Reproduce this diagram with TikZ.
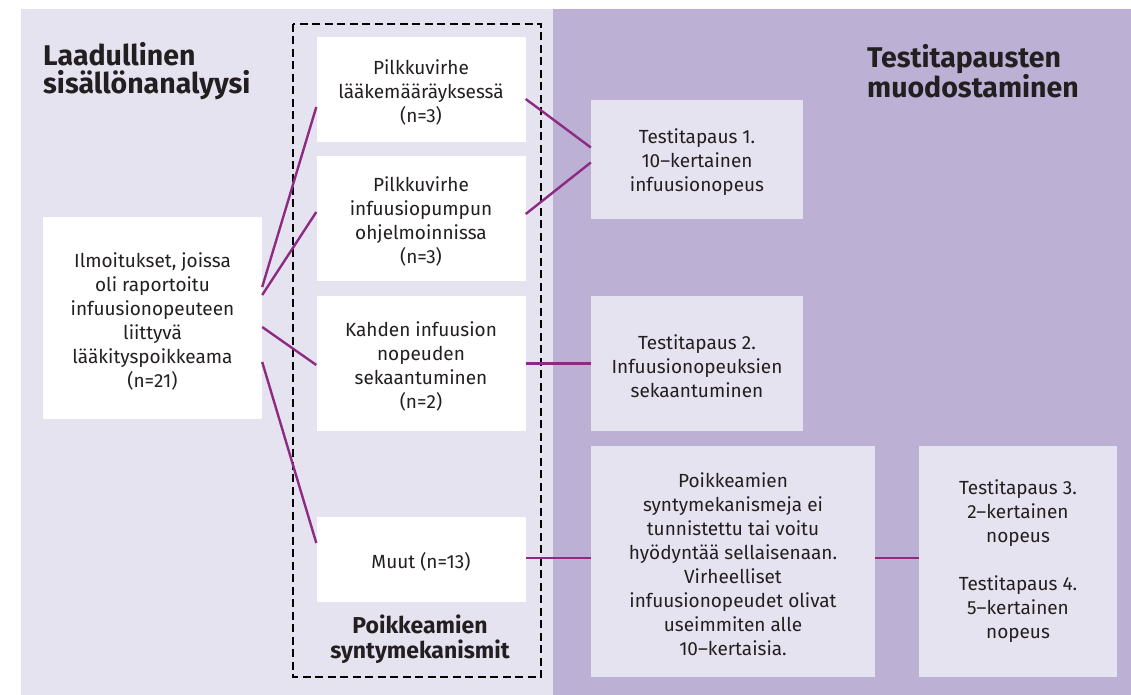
\documentclass[tikz,border=0pt]{standalone}
\usepackage{fontspec}
\setmainfont{Fira Sans}
\definecolor{lightpanel}{HTML}{E6E3F1}
\definecolor{darkpanel}{HTML}{BCB0D5}
\definecolor{linkcol}{HTML}{8D2B83}
\definecolor{txt}{HTML}{231F20}
\newcommand\dn{\rule{0pt}{21pt}}
\begin{document}
\begin{tikzpicture}[x=1pt,y=-1pt,
 wbox/.style={fill=white, draw=none, inner sep=0pt, align=center, text=txt, font=\fontsize{19}{24}\selectfont},
 lbox/.style={wbox, fill=lightpanel},
 link/.style={draw=linkcol, line width=2.4pt},
 title/.style={font=\bfseries\fontsize{28.5}{28}\selectfont, text=txt, align=left, inner sep=0pt, anchor=north west},
 group/.style={draw=black, line width=2.5pt, dash pattern=on 8pt off 4.5pt},
]
\useasboundingbox (0,0) rectangle (1131,695);
\fill[white] (0,0) rectangle (1131,695);
\fill[lightpanel] (21,9) rectangle (553,695);
\fill[darkpanel] (553,9) rectangle (1131,695);

\coordinate (gtl) at (293,24);
\coordinate (gbr) at (541,677);
\draw[group] (gtl) rectangle (gbr);

\node[title] (t-left) at (43,42) {Laadullinen\\sisällönanalyysi};
\node[title] (t-right) at (867,44) {Testitapausten\\muodostaminen};
\node[font=\bfseries\fontsize{23}{25}\selectfont, text=txt, align=center, inner sep=0pt, anchor=north] (t-group) at (420,615) {Poikkeamien\\syntymekanismit};

\node[wbox, minimum width=219, minimum height=202] (src) at (152.5,318) {\dn Ilmoitukset, joissa\\oli raportoitu\\infuusionopeuteen\\liittyvä\\lääkityspoikkeama\\(n=21)};

\node[wbox, minimum width=209, minimum height=105] (b1) at (421,89.5) {\dn Pilkkuvirhe\\lääkemääräyksessä\\(n=3)};
\node[wbox, minimum width=209, minimum height=125] (b2) at (421,218.5) {\dn Pilkkuvirhe\\infuusiopumpun\\ohjelmoinnissa\\(n=3)};
\node[wbox, minimum width=209, minimum height=135] (b3) at (421,363.5) {\dn Kahden infuusion\\nopeuden\\sekaantuminen\\(n=2)};
\node[wbox, minimum width=209, minimum height=85] (b4) at (421,559.5) {\dn Muut (n=13)};

\node[lbox, minimum width=212, minimum height=118] (tc1) at (697,159.5) {\dn Testitapaus 1.\\10–kertainen\\infuusionopeus};
\node[lbox, minimum width=212, minimum height=135] (tc2) at (697,363.5) {\dn Testitapaus 2.\\Infuusionopeuksien\\sekaantuminen};
\node[lbox, minimum width=284, minimum height=231] (big) at (733,561.5) {\dn Poikkeamien\\syntymekanismeja ei\\tunnistettu tai voitu\\hyödyntää sellaisenaan.\\Virheelliset\\infuusionopeudet olivat\\useimmiten alle\\10–kertaisia.};
\node[lbox, minimum width=198, minimum height=231] (tc34) at (1018,561.5) {Testitapaus 3.\\2–kertainen\\nopeus\\[24pt]Testitapaus 4.\\5–kertainen\\nopeus};

\draw[link] ([yshift=31pt]src.east) -- ([yshift=-17.5pt]b1.west);
\draw[link] ([yshift=23pt]src.east) -- ([yshift=6.5pt]b2.west);
\draw[link] ([yshift=-9pt]src.east) -- ([yshift=-1.5pt]b3.west);
\draw[link] ([yshift=-44pt]src.east) -- ([yshift=16.5pt]b4.west);

\draw[link] ([yshift=-9.5pt]b1.east) -- ([yshift=12pt]tc1.west);
\draw[link] ([yshift=4.5pt]b2.east) -- ([yshift=-3pt]tc1.west);
\draw[link] (b3.east) -- (b3.east -| tc2.west);
\draw[link] ([yshift=1.5pt]b4.east) -- ([yshift=1.5pt]b4.east -| big.west);
\draw[link] ([yshift=1.5pt]b4.east -| big.east) -- ([yshift=1.5pt]b4.east -| tc34.west);
\end{tikzpicture}
\end{document}
